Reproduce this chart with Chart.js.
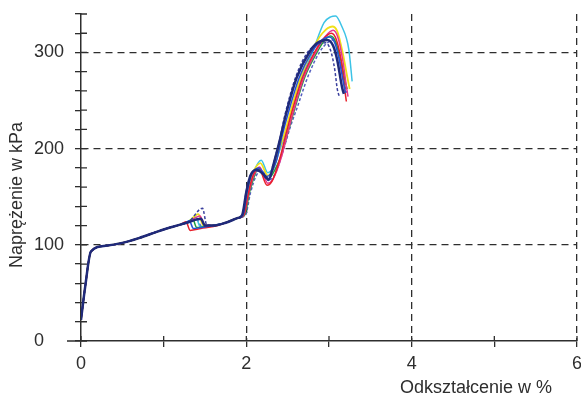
<!DOCTYPE html>
<html>
<head>
<meta charset="utf-8">
<script src="https://cdn.jsdelivr.net/npm/chart.js@4"></script>
<style>
  html, body { margin: 0; padding: 0; background: #fff; }
  #wrap { width: 581px; height: 397px; }
</style>
</head>
<body>
<div id="wrap"><canvas id="lineChart"></canvas></div>
<script>
// part shared by all samples (curves overlap up to ~1.2 %)
var startX = [0, 0.05, 0.12, 0.3, 0.5, 0.7, 0.9, 1.0, 1.1, 1.2];
var startY = [22, 56, 93, 99, 102, 107, 113, 116, 118.5, 121];

var navyX = [1.3, 1.45, 1.5, 1.6, 1.75, 1.9, 1.95, 2.0, 2.05, 2.12, 2.2, 2.27, 2.33, 2.4, 2.48, 2.61, 2.76, 2.86, 2.98, 3.05, 3.1, 3.16, 3.18];
var navyY = [123.5, 127, 120, 120, 123, 128, 131, 155, 172, 178, 174, 168, 184, 207, 236, 274, 300, 310, 313, 307, 292, 263, 257];

var dash1X = [1.3, 1.47, 1.52, 1.6, 1.75, 1.9, 1.95, 2.0, 2.05, 2.11, 2.18, 2.27, 2.32, 2.4, 2.47, 2.6, 2.74, 2.85, 2.96, 3.02, 3.07, 3.1, 3.13];
var dash1Y = [123.5, 138, 121, 120, 123, 128, 131, 156, 172, 177, 175, 167, 182, 208, 236, 275, 300, 308, 310, 302, 282, 262, 253];

var dash2X = [1.3, 1.4, 1.46, 1.6, 1.75, 1.9, 1.99, 2.05, 2.12, 2.18, 2.29, 2.36, 2.46, 2.53, 2.62, 2.75, 2.89, 2.98, 3.04, 3.1, 3.15, 3.19, 3.22];
var dash2Y = [123.5, 126, 119, 120, 123, 128, 131, 154, 172, 177, 168, 176, 202, 222, 244, 276, 301, 310, 313, 306, 286, 266, 258];

var blueX = [1.26, 1.31, 1.36, 1.45, 1.6, 1.75, 1.9, 1.96, 2.01, 2.06, 2.15, 2.25, 2.36, 2.43, 2.51, 2.64, 2.79, 2.89, 3.0, 3.07, 3.12, 3.18, 3.2];
var blueY = [122.5, 125, 117, 118, 120, 123, 128, 131, 155, 172, 180, 171, 186, 212, 238, 274, 300, 311, 316, 310, 294, 266, 258];

var redX = [1.27, 1.32, 1.45, 1.6, 1.75, 1.9, 1.97, 2.02, 2.08, 2.15, 2.25, 2.31, 2.4, 2.47, 2.55, 2.68, 2.83, 2.93, 3.03, 3.09, 3.15, 3.19, 3.21];
var redY = [124, 115, 117, 119, 123, 128, 131, 152, 172, 180, 162, 166, 188, 212, 238, 274, 301, 314, 320, 313, 290, 262, 249];

var magentaX = [1.3, 1.44, 1.49, 1.6, 1.75, 1.9, 1.97, 2.03, 2.09, 2.16, 2.26, 2.32, 2.42, 2.49, 2.57, 2.7, 2.85, 2.95, 3.05, 3.11, 3.17, 3.21, 3.23];
var magentaY = [123.5, 130, 121, 120, 123, 128, 131, 154, 172, 181, 164, 168, 190, 213, 239, 275, 302, 316, 323, 315, 290, 265, 254];

var greenX = [1.3, 1.35, 1.4, 1.5, 1.6, 1.75, 1.9, 1.98, 2.04, 2.1, 2.14, 2.26, 2.32, 2.43, 2.5, 2.58, 2.71, 2.86, 2.95, 3.02, 3.08, 3.15, 3.2, 3.22];
var greenY = [124, 127, 118, 119, 120, 123, 128, 131, 155, 172, 179, 168, 174, 195, 216, 240, 275, 301, 313, 317, 311, 290, 268, 262];

var yellowX = [1.3, 1.42, 1.48, 1.6, 1.75, 1.9, 1.96, 2.01, 2.07, 2.17, 2.26, 2.33, 2.4, 2.46, 2.54, 2.66, 2.8, 2.92, 3.04, 3.1, 3.17, 3.22, 3.25];
var yellowY = [124, 132, 120, 120, 123, 128, 131, 155, 173, 185, 172, 180, 200, 215, 240, 275, 303, 320, 327, 322, 298, 275, 262];

var cyanX = [1.3, 1.39, 1.44, 1.55, 1.6, 1.75, 1.9, 1.96, 2.02, 2.08, 2.18, 2.26, 2.33, 2.41, 2.47, 2.55, 2.67, 2.8, 2.94, 3.02, 3.08, 3.15, 3.24, 3.28];
var cyanY = [124, 129, 119, 120, 120, 123, 128, 131, 156, 174, 188, 175, 181, 200, 215, 240, 274, 300, 331, 337, 338, 328, 303, 270];

var xTickLabels = [0, 2, 4, 6];
var yTickLabels = [0, 100, 200, 300];

var ink = "#2e2e2e";

function toPoints(xs, ys) {
  var all = startX.concat(xs);
  var vals = startY.concat(ys);
  return all.map(function (x, i) { return { x: x, y: vals[i] }; });
}

function series(xs, ys, color, width, dash) {
  return {
    data: toPoints(xs, ys),
    borderColor: color,
    borderWidth: width,
    borderDash: dash || [],
    pointRadius: 0,
    fill: false,
    cubicInterpolationMode: "monotone",
  };
}

// tick marks go through the axis, and x axis runs a bit left of the origin
var crossTicks = {
  id: "crossTicks",
  beforeDatasetsDraw: function (chart) {
    var c = chart.ctx, xs = chart.scales.x, ys = chart.scales.y, a = chart.chartArea;
    c.save();
    c.strokeStyle = ink;
    c.lineWidth = 1.3;
    c.beginPath();
    ys.ticks.forEach(function (t) {
      var py = ys.getPixelForValue(t.value);
      c.moveTo(a.left, py);
      c.lineTo(a.left + 6, py);
    });
    xs.ticks.forEach(function (t) {
      var px = xs.getPixelForValue(t.value);
      c.moveTo(px, a.bottom);
      c.lineTo(px, a.bottom - 5);
    });
    c.moveTo(a.left - 14, a.bottom);
    c.lineTo(a.left, a.bottom);
    c.stroke();
    c.restore();
  },
};

var ctx = document.getElementById("lineChart").getContext("2d");
var lineChart = new Chart(ctx, {
  type: "line",
  data: {
    datasets: [
      series(navyX, navyY, "#1f2a7a", 2.5),
      series(dash1X, dash1Y, "#3a3f9e", 1.5, [3, 2]),
      series(blueX, blueY, "#2352d6", 1.5),
      series(redX, redY, "#e8202a", 1.5),
      series(magentaX, magentaY, "#e8348c", 1.5),
      series(greenX, greenY, "#1f9e3c", 1.5),
      series(yellowX, yellowY, "#f0e018", 1.8),
      series(cyanX, cyanY, "#3cc3e6", 1.5),
      series(dash2X, dash2Y, "#5560c0", 1.5, [3, 2]),
    ],
  },
  options: {
    responsive: true,
    maintainAspectRatio: false,
    animation: false,
    layout: { padding: { top: 14, right: 4, left: 34, bottom: 0 } },
    plugins: { legend: { display: false }, tooltip: { enabled: false } },
    scales: {
      x: {
        type: "linear",
        min: 0,
        max: 6,
        afterFit: function (s) {
          s.height = 56;
          s.paddingLeft = 0;
          s.paddingRight = 0;
        },
        ticks: {
          stepSize: 1,
          autoSkip: false,
          maxRotation: 0,
          padding: 6,
          color: ink,
          font: { family: "Liberation Sans", size: 18 },
          callback: function (v) { return xTickLabels.indexOf(v) >= 0 ? v : ""; },
        },
        grid: {
          color: function (c) {
            return c.tick && c.tick.value > 0 && xTickLabels.indexOf(c.tick.value) >= 0 ? ink : "rgba(0,0,0,0)";
          },
          lineWidth: 1.3,
          tickLength: 6,
          tickColor: ink,
          tickWidth: 1.3,
        },
        border: { color: ink, width: 1.5, dash: [7, 5] },
        title: {
          display: true,
          text: "Odkształcenie w %     ",
          align: "end",
          color: ink,
          font: { family: "Liberation Sans", size: 18, lineHeight: 1 },
          padding: { top: 0, bottom: 0 },
        },
      },
      y: {
        type: "linear",
        min: 0,
        max: 340,
        afterFit: function (s) {
          s.width = 47;
          s.paddingTop = 0;
          s.paddingBottom = 0;
        },
        ticks: {
          stepSize: 20,
          autoSkip: false,
          padding: 12,
          crossAlign: "far",
          color: ink,
          font: { family: "Liberation Sans", size: 18 },
          callback: function (v) { return yTickLabels.indexOf(v) >= 0 ? v : ""; },
        },
        grid: {
          color: function (c) {
            return c.tick && c.tick.value > 0 && yTickLabels.indexOf(c.tick.value) >= 0 ? ink : "rgba(0,0,0,0)";
          },
          lineWidth: 1.3,
          tickLength: 6,
          tickColor: ink,
          tickWidth: 1.3,
        },
        border: { color: ink, width: 1.5, dash: [7, 5] },
        title: {
          display: true,
          text: "Naprężenie w kPa       ",
          color: ink,
          font: { family: "Liberation Sans", size: 18, lineHeight: 1.2 },
          padding: { top: -28, bottom: 0 },
        },
      },
    },
  },
  plugins: [crossTicks],
});
</script>
</body>
</html>
